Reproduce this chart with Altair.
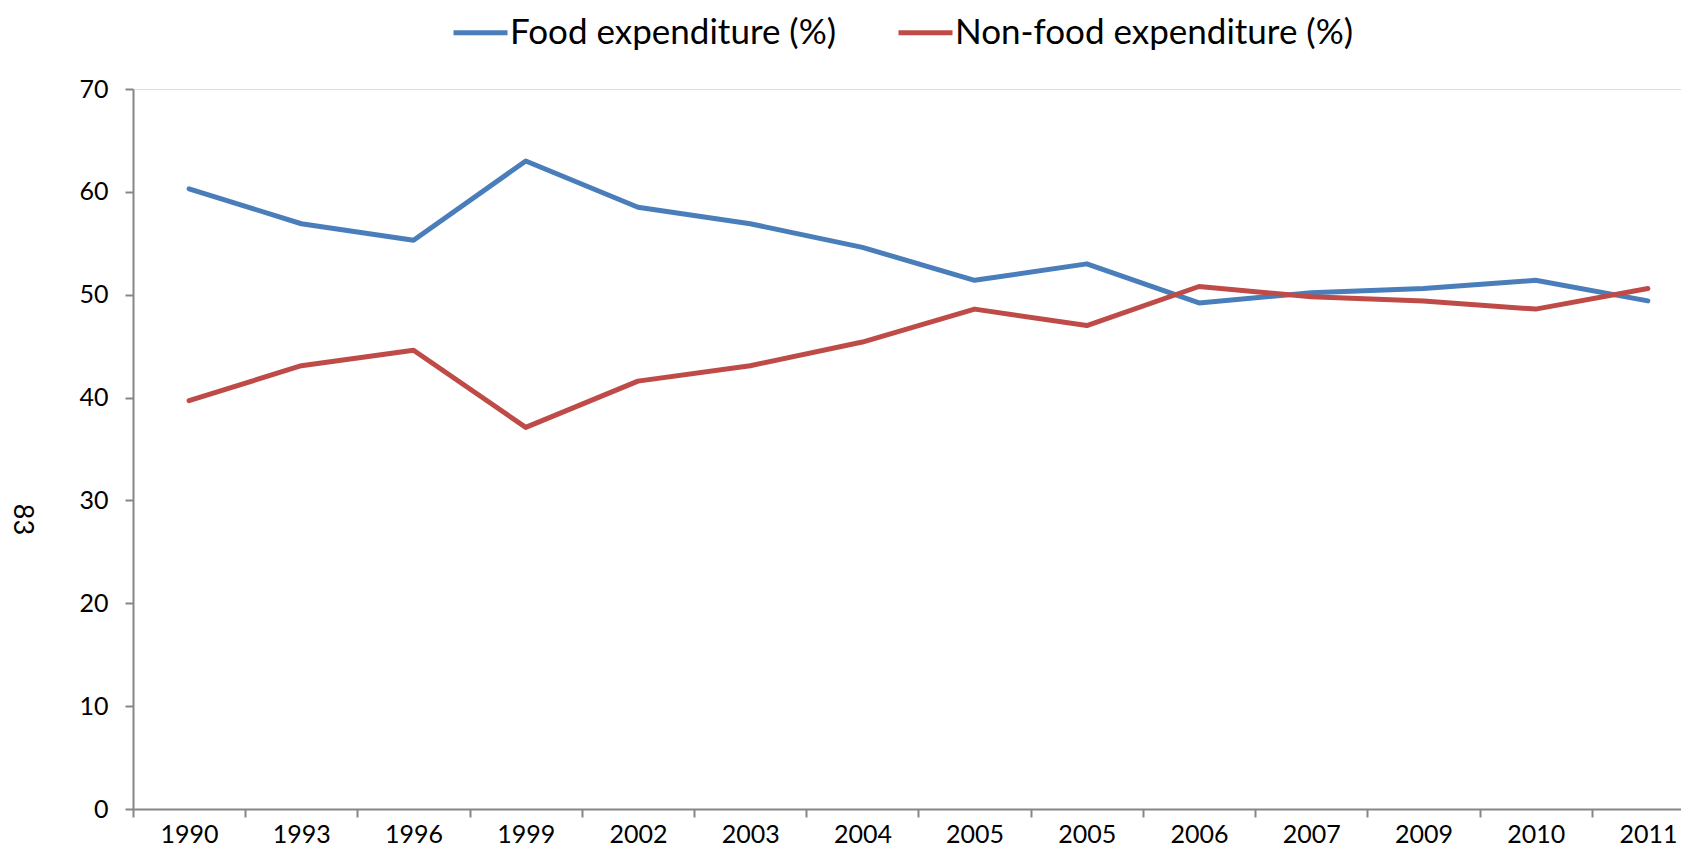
import altair as alt
import pandas as pd

years = ["1990", "1993", "1996", "1999", "2002", "2003", "2004", "2005",
         "2005", "2006", "2007", "2009", "2010", "2011"]
food = [60.3, 56.9, 55.3, 63.0, 58.5, 56.9, 54.6, 51.4, 53.0, 49.2, 50.2, 50.6, 51.4, 49.4]
nonfood = [39.7, 43.1, 44.6, 37.1, 41.6, 43.1, 45.4, 48.6, 47.0, 50.8, 49.8, 49.4, 48.6, 50.6]
series_names = ["Food expenditure (%)", "Non-food expenditure (%)"]
series_colors = ["#4A7EBB", "#BE4B48"]
y_ticks = [0, 10, 20, 30, 40, 50, 60, 70]
y_title = "83"

rows = []
for i, y in enumerate(years):
    rows.append({"idx": i, "year": y, "series": series_names[0], "value": food[i]})
    rows.append({"idx": i, "year": y, "series": series_names[1], "value": nonfood[i]})
df = pd.DataFrame(rows)

label_expr = "[" + ",".join("'" + y + "'" for y in years) + "][datum.value]"
FONT = "Lato"
AX = "#868686"

chart = alt.Chart(df).mark_line(strokeWidth=5, strokeCap="round", strokeJoin="round").encode(
    x=alt.X("idx:O",
            scale=alt.Scale(type="band", paddingInner=0, paddingOuter=0, range=[0, 1571]),
            bandPosition=0.5,
            axis=alt.Axis(title=None, labelExpr=label_expr, labelAngle=0, tickBand="extent",
                          domainColor=AX, domainWidth=2, tickColor=AX, tickWidth=2, tickSize=8,
                          labelFont=FONT, labelFontSize=25, labelColor="#000000", labelPadding=5,
                          grid=False)),
    y=alt.Y("value:Q",
            scale=alt.Scale(domain=[0, 70], nice=False, zero=True),
            axis=alt.Axis(values=y_ticks, title=y_title, titleAngle=90, titleX=-112, titleY=430,
                          titleAlign="center", titleBaseline="middle", titleFont=FONT,
                          titleFontSize=27, titleFontWeight="normal", titleColor="#000000",
                          domainColor=AX, domainWidth=2, tickColor=AX, tickWidth=2, tickSize=8,
                          labelFont=FONT, labelFontSize=25, labelColor="#000000", labelPadding=17,
                          grid=False)),
    color=alt.Color("series:N",
                    scale=alt.Scale(domain=series_names, range=series_colors),
                    legend=alt.Legend(title=None, orient="none", direction="horizontal",
                                      legendX=318, legendY=-86, symbolType="stroke",
                                      symbolSize=2916, symbolStrokeWidth=5, labelOffset=0,
                                      columnPadding=51, labelFont=FONT, labelFontSize=35,
                                      labelColor="#000000", labelLimit=0)),
).properties(
    width=1548, height=720,
    padding={"left": 125, "top": 81, "right": 0, "bottom": 43},
    autosize=alt.AutoSizeParams(type="none"),
).configure_view(stroke=None).configure(background="white")

chart.save("out.html", embed_options={"renderer": "svg", "actions": False})
